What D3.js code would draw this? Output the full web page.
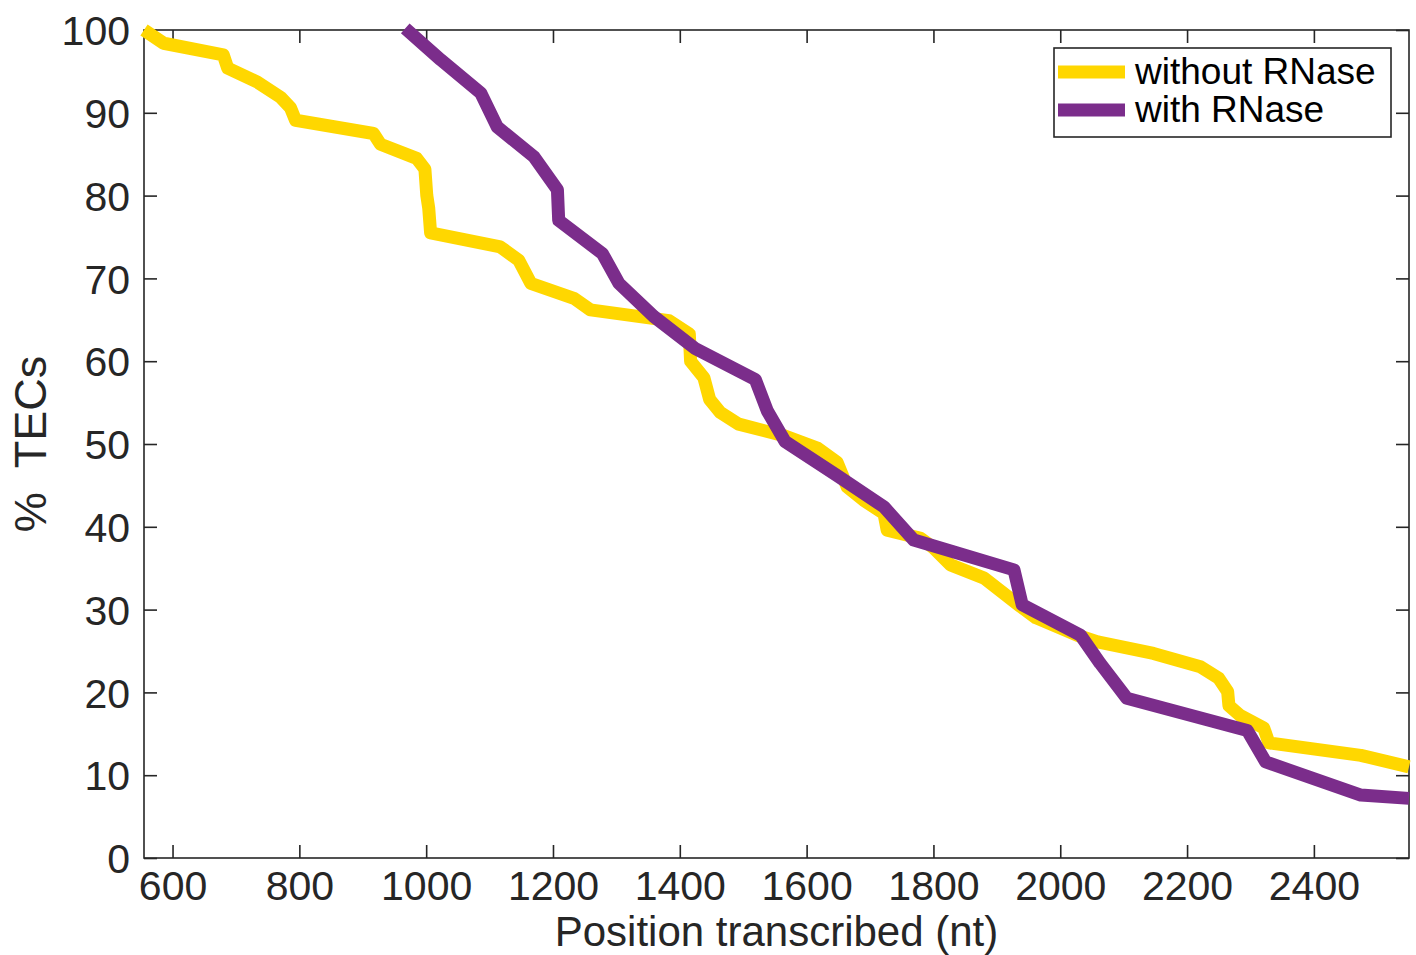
<!DOCTYPE html>
<html>
<head>
<meta charset="utf-8">
<script src="https://cdn.jsdelivr.net/npm/d3@7"></script>
<style>
  html, body { margin: 0; padding: 0; background: #fff; }
  svg { display: block; }
  text { font-family: "Liberation Sans", Arial, Helvetica, sans-serif; }
</style>
</head>
<body>
<svg id="chart" width="1416" height="955"></svg>
<script>
// ---- data ----
const withoutPos = [555, 586, 680, 687, 734, 770, 786, 794, 917, 928, 985, 998, 1001, 1004, 1007, 1117, 1146, 1165, 1233, 1259, 1383, 1415, 1417, 1438, 1447, 1464, 1493, 1564, 1617, 1648, 1664, 1690, 1722, 1727, 1780, 1801, 1827, 1880, 1937, 1962, 2027, 2059, 2147, 2221, 2250, 2264, 2266, 2284, 2321, 2329, 2474, 2550];
const withoutPct = [100, 98.4, 97.0, 95.4, 93.7, 91.9, 90.6, 89.1, 87.5, 86.2, 84.5, 83.2, 80.0, 78.5, 75.5, 73.8, 72.2, 69.4, 67.6, 66.2, 64.9, 63.3, 60.0, 58.0, 55.4, 53.8, 52.4, 51.0, 49.5, 47.8, 44.8, 43.2, 41.6, 39.6, 38.6, 37.4, 35.4, 33.8, 30.4, 29.0, 26.9, 26.1, 24.7, 23.1, 21.7, 20.1, 18.4, 17.2, 15.7, 13.9, 12.4, 11.0];
const withPos = [967, 1023, 1086, 1112, 1170, 1207, 1209, 1278, 1304, 1359, 1425, 1519, 1538, 1566, 1648, 1722, 1769, 1927, 1940, 2032, 2063, 2105, 2295, 2324, 2474, 2550];
const withPct = [100.2, 96.4, 92.4, 88.3, 84.7, 80.7, 77.0, 73.0, 69.4, 65.4, 61.5, 57.8, 54.0, 50.3, 46.2, 42.4, 38.4, 34.8, 30.6, 26.9, 23.5, 19.3, 15.4, 11.6, 7.6, 7.2];
const seriesNames = ["without RNase", "with RNase"];
const seriesColors = ["#FFD700", "#7B2D8B"];
const xTicks = [600, 800, 1000, 1200, 1400, 1600, 1800, 2000, 2200, 2400];
const yTicks = [0, 10, 20, 30, 40, 50, 60, 70, 80, 90, 100];
const xDomain = [555, 2550];
const yDomain = [0, 100];
const xTitle = "Position transcribed (nt)";
const yTitle = "%  TECs";

// ---- layout ----
const svg = d3.select("#chart");
const L = 144, T = 30, R = 1409, B = 858;
const x = d3.scaleLinear().domain(xDomain).range([L, R]);
const y = d3.scaleLinear().domain(yDomain).range([B, T]);
const axisColor = "#262626";
const tickLen = 13;

// axis box
svg.append("rect").attr("x", L).attr("y", T).attr("width", R - L).attr("height", B - T)
  .attr("fill", "none").attr("stroke", axisColor).attr("stroke-width", 1.6);

function styleAxis(g) {
  g.select(".domain").remove();
  g.selectAll(".tick line").attr("stroke", axisColor).attr("stroke-width", 1.6);
  g.selectAll(".tick text").attr("fill", axisColor).attr("font-size", 41)
    .attr("font-family", "'Liberation Sans', Arial, sans-serif");
}

// bottom axis (ticks inward)
const gx = svg.append("g").attr("transform", `translate(0,${B})`)
  .call(d3.axisBottom(x).tickValues(xTicks).tickSize(-tickLen).tickPadding(0).tickFormat(d3.format("d")));
styleAxis(gx);
gx.selectAll(".tick text").attr("y", 41.5).attr("dy", 0);

// top axis ticks (mirror, no labels)
const gxt = svg.append("g").attr("transform", `translate(0,${T})`)
  .call(d3.axisTop(x).tickValues(xTicks).tickSize(-tickLen).tickFormat(""));
styleAxis(gxt);

// left axis
const gy = svg.append("g").attr("transform", `translate(${L},0)`)
  .call(d3.axisLeft(y).tickValues(yTicks).tickSize(-tickLen).tickPadding(14).tickFormat(d3.format("d")));
styleAxis(gy);
gy.selectAll(".tick text").attr("dy", "0.36em");

// right axis ticks (mirror)
const gyr = svg.append("g").attr("transform", `translate(${R},0)`)
  .call(d3.axisRight(y).tickValues(yTicks).tickSize(-tickLen).tickFormat(""));
styleAxis(gyr);

// lines
const line = d3.line().x(d => x(d[0])).y(d => y(d[1]));
const withoutData = withoutPos.map((p, i) => [p, withoutPct[i]]);
const withData = withPos.map((p, i) => [p, withPct[i]]);
[withoutData, withData].forEach((data, i) => {
  svg.append("path").datum(data)
    .attr("d", line)
    .attr("fill", "none")
    .attr("stroke", seriesColors[i])
    .attr("stroke-width", 13)
    .attr("stroke-linejoin", "round")
    .attr("stroke-linecap", "butt");
});

// axis titles
svg.append("text").attr("x", (L + R) / 2).attr("y", 946)
  .attr("text-anchor", "middle").attr("font-size", 42).attr("fill", axisColor)
  .text(xTitle);
svg.append("text")
  .attr("transform", `translate(46,${(T + B) / 2}) rotate(-90)`)
  .attr("text-anchor", "middle").attr("font-size", 45).attr("fill", axisColor)
  .style("white-space", "pre")
  .text(yTitle);

// legend
const lg = svg.append("g");
lg.append("rect").attr("x", 1054).attr("y", 48).attr("width", 337).attr("height", 89)
  .attr("fill", "#fff").attr("stroke", axisColor).attr("stroke-width", 1.6);
seriesNames.forEach((name, i) => {
  const cy = 72 + i * 38;
  lg.append("line").attr("x1", 1058).attr("x2", 1125).attr("y1", cy).attr("y2", cy)
    .attr("stroke", seriesColors[i]).attr("stroke-width", 13);
  lg.append("text").attr("x", 1135).attr("y", cy + 12).attr("font-size", 37)
    .attr("fill", "#000").text(name);
});
</script>
</body>
</html>
